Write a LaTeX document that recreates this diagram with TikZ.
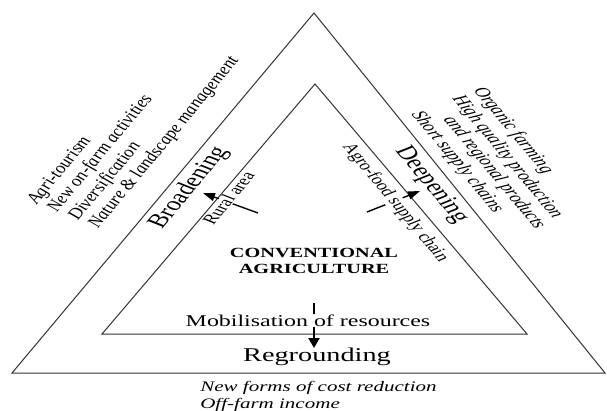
\documentclass[tikz,border=0pt]{standalone}
\usepackage{fontspec}
\setmainfont{Liberation Serif}
\usetikzlibrary{arrows.meta}
\begin{document}
\begin{tikzpicture}[x=1pt,y=-1pt,
  tri/.style={draw=black!80, line width=1pt, line join=miter},
  wide/.style={xscale=1.45, inner sep=0pt},
  sidetext/.style={wide, font=\fontsize{14.5}{16}\selectfont\itshape, anchor=base west},
  bigword/.style={wide, font=\fontsize{19.5}{22}\selectfont},
  lab/.style={wide, font=\fontsize{14}{16}\selectfont, fill=white, inner sep=0.4pt},
  arr/.style={line width=1.4pt, -{Triangle[length=12pt,width=8pt]}},
  downarr/.style={line width=2.3pt, -{Triangle[length=10pt,width=11pt]}}
]
\useasboundingbox (0,0) rectangle (607,411);
% triangles
\coordinate (OA) at (314,13);
\coordinate (OL) at (12,373);
\coordinate (OR) at (605,373);
\coordinate (IA) at (315,84);
\coordinate (IL) at (102,334);
\coordinate (IR) at (527,334);
\draw[tri] (OA) -- (OL) -- (OR) -- cycle;
\draw[tri] (IA) -- (IL) -- (IR) -- cycle;
% arrows
\coordinate (la0) at (258,213);
\coordinate (la1) at (203,193);
\coordinate (ra0) at (367,212);
\coordinate (ra1) at (420,191);
\coordinate (ma0) at (314,303);
\coordinate (ma1) at (314,348);
\draw[arr] (la0) -- (la1);
\draw[arr] (ra0) -- (ra1);
\draw[downarr] (ma0) -- (ma1);
% left outer text
\node[sidetext, rotate=60] (l1) at (37,205) {Agri-tourism};
\node[sidetext, rotate=60] (l2) at (57,213) {New on-farm activities};
\node[sidetext, rotate=60] (l3) at (78,221) {Diversification};
\node[sidetext, rotate=60] (l4) at (98,229) {Nature \& landscape management};
% right outer text
\node[sidetext, rotate=-60] (r1) at (473,90) {Organic farming};
\node[sidetext, rotate=-60] (r2) at (452,98) {High quality production};
\node[sidetext, rotate=-60] (r3) at (443,119) {and regional products};
\node[sidetext, rotate=-60] (r4) at (411,114) {Short supply chains};
% band words
\node[bigword, rotate=60, anchor=center] (broad) at (189,188) {Broadening};
\node[bigword, rotate=-60, anchor=center] (deep) at (431,185) {Deepening};
\node[bigword, anchor=base] (regr) at (317,361) {Regrounding};
% inner labels
\node[lab, rotate=60, anchor=base west] (rural) at (213,226) {Rural area};
\node[lab, rotate=-60, anchor=base west] (agro) at (342,146) {Agro-food supply chain};
\node[lab, anchor=base] (mob) at (308,326) {\fontsize{16.5}{18}\selectfont Mobilisation of resources};
\node[wide, anchor=base, font=\fontsize{14}{16}\selectfont\bfseries] (conv1) at (314,258) {CONVENTIONAL};
\node[wide, anchor=base, font=\fontsize{14}{16}\selectfont\bfseries] (conv2) at (314,274) {AGRICULTURE};
% bottom text
\node[sidetext] (b1) at (200,391) {New forms of cost reduction};
\node[sidetext] (b2) at (200,408) {Off-farm income};
\end{tikzpicture}
\end{document}
